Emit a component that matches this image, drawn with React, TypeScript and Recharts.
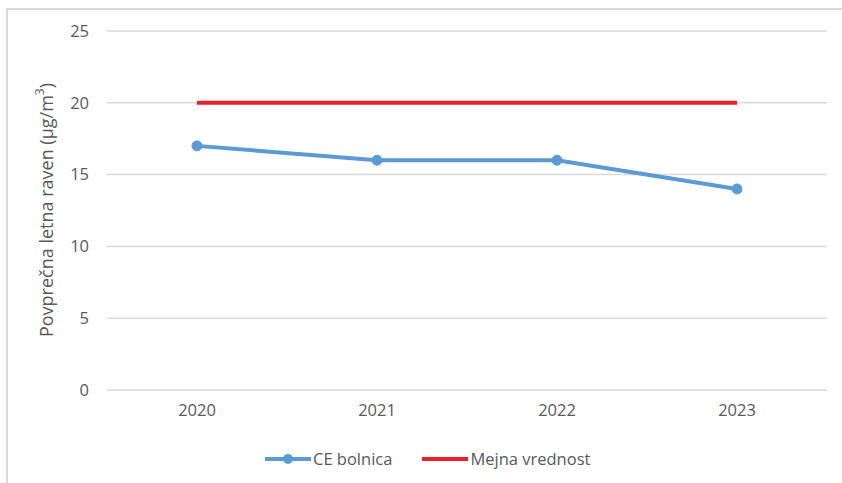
import React from 'react';
import { LineChart, Line, XAxis, YAxis, CartesianGrid } from 'recharts';

const years = ['2020', '2021', '2022', '2023'];
const ceBolnica = [17, 16, 16, 14];
const mejnaVrednost = [20, 20, 20, 20];
const yTicks = [0, 5, 10, 15, 20, 25];

const data = years.map((y, i) => ({
  year: y,
  ce: ceBolnica[i],
  mejna: mejnaVrednost[i]
}));

const FONT = '"Open Sans", "Liberation Sans", sans-serif';
const TEXT = '#595959';

const ChartLegend = () => (
  <div style={{ position: 'absolute', left: 265, top: 447, display: 'flex', alignItems: 'center', fontFamily: FONT, fontSize: 16.5, color: TEXT }}>
    <svg width={46} height={12} style={{ marginRight: 2 }}>
      <line x1={0} y1={6} x2={46} y2={6} stroke="#5b9bd5" strokeWidth={4} />
      <circle cx={23} cy={6} r={5} fill="#5b9bd5" />
    </svg>
    <span style={{ marginRight: 30 }}>CE bolnica</span>
    <svg width={46} height={12} style={{ marginRight: 2 }}>
      <line x1={0} y1={6} x2={46} y2={6} stroke="#e8202a" strokeWidth={4} />
    </svg>
    <span>Mejna vrednost</span>
  </div>
);

const YLabel = () => (
  <text
    x={48}
    y={210}
    transform="rotate(-90 48 210)"
    textAnchor="middle"
    dominantBaseline="middle"
    fill={TEXT}
    fontSize={18}
    fontFamily={FONT}
  >
    Povprečna letna raven (µg/m<tspan dy={-7} fontSize={12}>3</tspan><tspan dy={7}>)</tspan>
  </text>
);

export default function App() {
  return (
    <div style={{ position: 'fixed', left: 0, top: 0, width: 842, height: 483, overflow: 'hidden', background: '#fff' }}>
      <div style={{ position: 'absolute', left: 6, top: 8, width: 900, height: 520, border: '2px solid #d9d9d9', boxSizing: 'border-box' }} />
      <div style={{ position: 'absolute', left: 0, top: 0 }}>
        <LineChart width={842} height={483} data={data} margin={{ top: 31, right: 15, bottom: 63, left: 47 }}>
          <CartesianGrid vertical={false} stroke="#d9d9d9" strokeWidth={1.5} />
          <XAxis
            dataKey="year"
            height={30}
            axisLine={false}
            tickLine={false}
            tickSize={0}
            tickMargin={14}
            padding={{ left: 90, right: 90 }}
            tick={{ fill: TEXT, fontSize: 16.5, fontFamily: FONT }}
          />
          <YAxis
            width={60}
            domain={[0, 25]}
            ticks={yTicks}
            axisLine={false}
            tickLine={false}
            tickSize={0}
            tickMargin={18}
            tick={{ fill: TEXT, fontSize: 16.5, fontFamily: FONT }}
          />
          <Line
            dataKey="ce"
            name="CE bolnica"
            stroke="#5b9bd5"
            strokeWidth={4}
            dot={{ r: 5, fill: '#5b9bd5', stroke: '#5b9bd5', strokeWidth: 1 }}
            isAnimationActive={false}
          />
          <Line
            dataKey="mejna"
            name="Mejna vrednost"
            stroke="#e8202a"
            strokeWidth={4}
            dot={false}
            isAnimationActive={false}
          />
        </LineChart>
      </div>
      <svg width={842} height={483} style={{ position: 'absolute', left: 0, top: 0, pointerEvents: 'none' }}>
        <YLabel />
      </svg>
      <ChartLegend />
    </div>
  );
}
